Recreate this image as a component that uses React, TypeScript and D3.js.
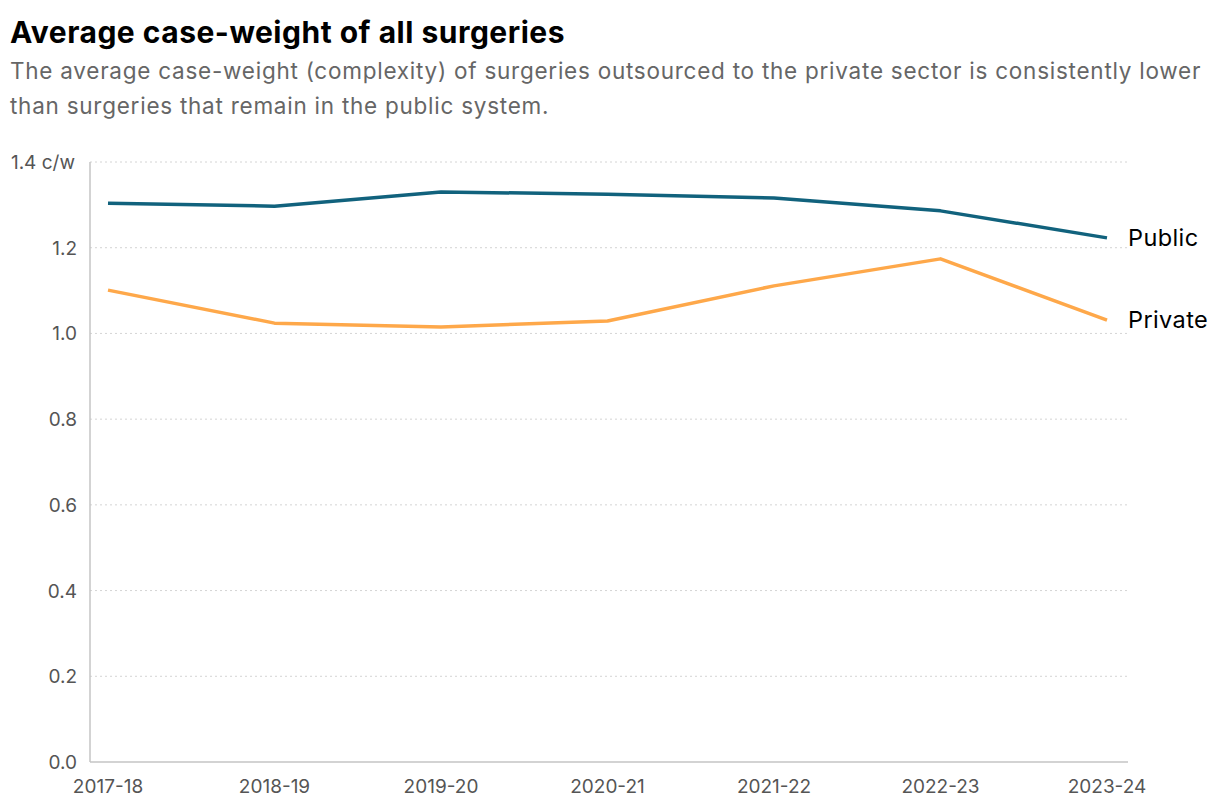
import React from 'react'
import * as d3 from 'd3'

const years = ['2017-18', '2018-19', '2019-20', '2020-21', '2021-22', '2022-23', '2023-24']
const publicValues = [1.304, 1.297, 1.33, 1.325, 1.316, 1.286, 1.223]
const privateValues = [1.101, 1.024, 1.015, 1.029, 1.111, 1.174, 1.031]
const yTicks = [0, 0.2, 0.4, 0.6, 0.8, 1.0, 1.2, 1.4]

const series = [
  { name: 'Public', values: publicValues, color: '#11627d' },
  { name: 'Private', values: privateValues, color: '#fea84a' },
]

const font = 'Inter, "Noto Sans", sans-serif'

const App: React.FC = () => {
  const width = 1220
  const height = 812
  const left = 90
  const right = 1128
  const top = 162
  const bottom = 762

  const x = d3.scalePoint<string>().domain(years).range([108, 1107])
  const y = d3.scaleLinear().domain([0, 1.4]).range([bottom, top])

  const line = d3
    .line<number>()
    .x((_, i) => x(years[i]) as number)
    .y((d) => y(d))

  return (
    <svg width={width} height={height} style={{ position: 'absolute', left: 0, top: 0, fontFamily: font }}>
      <rect width={width} height={height} fill="#fff" />
      <text x={10} y={43} fontSize={30} fontWeight={700} fill="#000" letterSpacing={0.5}>
        Average case-weight of all surgeries
      </text>
      <text x={10} y={79} fontSize={22.5} fill="#666" letterSpacing={0.75}>
        The average case-weight (complexity) of surgeries outsourced to the private sector is consistently lower
      </text>
      <text x={10} y={114} fontSize={22.5} fill="#666" letterSpacing={0.75}>
        than surgeries that remain in the public system.
      </text>

      {/* grid */}
      {yTicks.slice(1).map((t) => (
        <line key={t} x1={left} x2={right} y1={y(t)} y2={y(t)} stroke="#d4d4d4" strokeWidth={1} strokeDasharray="2,3" />
      ))}

      {/* y labels */}
      {yTicks.map((t) => (
        <text key={t} x={77} y={y(t) + 7} fontSize={19} fill="#555" textAnchor="end">
          {t === 1.4 ? '' : t.toFixed(1)}
        </text>
      ))}
      <text x={75} y={y(1.4) + 7} fontSize={19} fill="#555" textAnchor="end">
        1.4 c/w
      </text>

      {/* axes */}
      <line x1={left} x2={left} y1={top} y2={bottom} stroke="#c4c4c4" strokeWidth={1.5} />
      <line x1={left} x2={right} y1={bottom} y2={bottom} stroke="#c4c4c4" strokeWidth={1.5} />

      {years.map((yr) => (
        <text key={yr} x={x(yr)} y={793} fontSize={19} fill="#555" textAnchor="middle">
          {yr}
        </text>
      ))}

      {series.map((s) => (
        <g key={s.name}>
          <path d={line(s.values) ?? ''} fill="none" stroke={s.color} strokeWidth={3.5} strokeLinejoin="round" />
          <text x={1128} y={y(s.values[s.values.length - 1]) + 8} fontSize={23.5} fill="#000" letterSpacing={0.4}>
            {s.name}
          </text>
        </g>
      ))}
    </svg>
  )
}

export default App
